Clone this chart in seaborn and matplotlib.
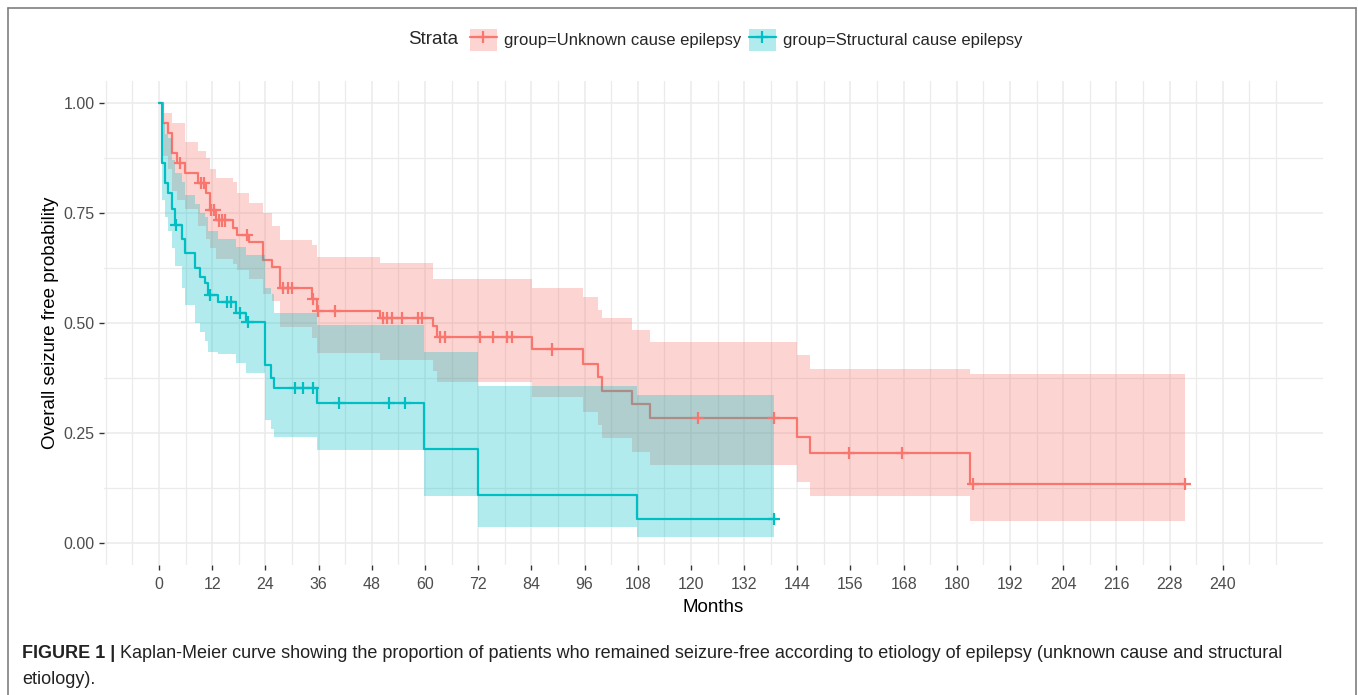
import numpy as np
import pandas as pd
import matplotlib.pyplot as plt
import seaborn as sns
from matplotlib.patches import Patch
from matplotlib.lines import Line2D
from matplotlib.legend_handler import HandlerTuple

groups = ['group=Unknown cause epilepsy', 'group=Structural cause epilepsy']
colors = ['#F8766D', '#00BFC4']

# Unknown cause epilepsy (step times in months, survival, CI)
unk_time = [0, 1, 2, 3, 4, 5.9, 8.8, 10.6, 11.4, 12.8, 16.7, 17.6, 20.3, 23.5, 25.5,
            27.4, 34.5, 35.6, 49.9, 61.8, 62.7, 84.1, 95.6, 99.0, 99.9, 106.7, 110.8,
            143.9, 146.9, 183.0]
unk_surv = [1.0, 0.955, 0.932, 0.886, 0.864, 0.841, 0.818, 0.795, 0.757, 0.733, 0.716,
            0.70, 0.684, 0.643, 0.627, 0.58, 0.555, 0.527, 0.511, 0.492, 0.468, 0.44,
            0.407, 0.377, 0.345, 0.316, 0.284, 0.241, 0.204, 0.134]
unk_upper = [1.0, 0.977, 0.977, 0.955, 0.955, 0.911, 0.89, 0.875, 0.85, 0.83, 0.82,
             0.795, 0.773, 0.75, 0.72, 0.689, 0.677, 0.65, 0.636, 0.60, 0.60, 0.58,
             0.559, 0.53, 0.511, 0.484, 0.457, 0.427, 0.395, 0.384]
unk_lower = [1.0, 0.88, 0.85, 0.80, 0.78, 0.76, 0.72, 0.69, 0.67, 0.645, 0.635, 0.62,
             0.60, 0.565, 0.55, 0.49, 0.465, 0.432, 0.416, 0.39, 0.366, 0.332, 0.297,
             0.268, 0.238, 0.207, 0.177, 0.139, 0.107, 0.05]
unk_censor = [4.7, 9.4, 10.1, 11.7, 12.5, 13.6, 14.3, 14.8, 19.8, 28.0, 29.0, 30.0,
              34.7, 35.9, 39.7, 50.5, 51.4, 52.5, 54.8, 58.4, 59.3, 63.4, 64.5, 72.4,
              75.3, 78.5, 79.6, 88.6, 121.6, 138.7, 155.6, 167.6, 183.6, 231.4]
unk_end = 231.4

# Structural cause epilepsy
str_time = [0, 0.7, 1.4, 2.0, 2.9, 3.6, 5.2, 5.9, 8.1, 9.2, 10.4, 11.0, 13.4, 17.4,
            19.6, 24.0, 25.2, 25.9, 35.6, 59.8, 72.0, 107.8]
str_surv = [1.0, 0.864, 0.818, 0.795, 0.758, 0.722, 0.69, 0.66, 0.625, 0.605, 0.59,
            0.564, 0.548, 0.523, 0.502, 0.405, 0.375, 0.352, 0.318, 0.213, 0.109, 0.055]
str_upper = [1.0, 0.955, 0.93, 0.92, 0.87, 0.84, 0.82, 0.79, 0.77, 0.75, 0.74, 0.71,
             0.69, 0.673, 0.655, 0.58, 0.565, 0.523, 0.495, 0.434, 0.357, 0.336]
str_lower = [1.0, 0.78, 0.74, 0.71, 0.67, 0.63, 0.58, 0.54, 0.50, 0.48, 0.46, 0.435,
             0.43, 0.41, 0.386, 0.28, 0.26, 0.241, 0.211, 0.107, 0.036, 0.013]
str_censor = [3.8, 11.6, 15.3, 16.2, 18.2, 20.0, 30.7, 32.5, 34.7, 40.6, 51.9, 55.5, 138.7]
str_end = 138.7

caption_bold = 'FIGURE 1 |'
caption_1 = (' Kaplan-Meier curve showing the proportion of patients who remained seizure-free '
             'according to etiology of epilepsy (unknown cause and structural')
caption_2 = 'etiology).'

sns.set_theme(style='white')
plt.rcParams['font.family'] = ['Liberation Sans', 'DejaVu Sans']

series = [
    (groups[0], unk_time, unk_surv, unk_upper, unk_lower, unk_censor, unk_end),
    (groups[1], str_time, str_surv, str_upper, str_lower, str_censor, str_end),
]

curves = []
marks = []
for name, t, s, up, lo, cens, end in series:
    curves.append(pd.DataFrame({'time': list(t) + [end], 'surv': list(s) + [s[-1]], 'group': name}))
    idx = np.searchsorted(t, cens, side='right') - 1
    marks.append(pd.DataFrame({'time': cens, 'surv': np.array(s)[idx], 'group': name}))
curves = pd.concat(curves, ignore_index=True)
marks = pd.concat(marks, ignore_index=True)
palette = dict(zip(groups, colors))

fig = plt.figure(figsize=(13.58, 6.95), dpi=100)
ax = fig.add_axes([0.0763, 0.1871, 0.8976, 0.6964])

sns.lineplot(data=curves, x='time', y='surv', hue='group', palette=palette,
             drawstyle='steps-post', estimator=None, sort=False, linewidth=1.6,
             legend=False, ax=ax, zorder=2)

for (name, t, s, up, lo, cens, end), c in zip(series, colors):
    ax.fill_between(list(t) + [end], list(lo) + [lo[-1]], list(up) + [up[-1]],
                    step='post', color=c, alpha=0.3, linewidth=0, zorder=3)

sns.scatterplot(data=marks, x='time', y='surv', hue='group', palette=palette,
                marker='+', s=80, linewidth=1.6, legend=False, ax=ax, zorder=4)

ax.set_xlim(-12.5, 262.5)
ax.set_ylim(-0.05, 1.05)
ax.set_xticks(np.arange(0, 241, 12))
ax.set_xticks([m for m in range(-12, 253, 6) if m % 12 or m < 0 or m > 240], minor=True)
ax.set_yticks([0, 0.25, 0.5, 0.75, 1.0])
ax.set_yticklabels(['0.00', '0.25', '0.50', '0.75', '1.00'])
ax.set_yticks([0.125, 0.375, 0.625, 0.875], minor=True)
ax.grid(which='major', color='#EBEBEB', linewidth=1.1)
ax.grid(which='minor', color='#EBEBEB', linewidth=0.9)
ax.set_axisbelow(True)
for sp in ax.spines.values():
    sp.set_visible(False)
ax.tick_params(which='major', length=3.5, width=1, color='#333333',
               labelcolor='#4D4D4D', labelsize=11.5, pad=5, bottom=True, left=True)
ax.tick_params(axis='y', which='major', pad=3)
ax.tick_params(which='minor', length=0)
ax.set_xlabel('Months', fontsize=13.5, color='black', labelpad=5)
ax.set_ylabel('Overall seizure free probability', fontsize=13.5, color='black', labelpad=3)

# legend with title on the left, ggplot style
handles = [(Patch(facecolor=c, alpha=0.3, edgecolor='none'),
            Line2D([], [], color=c, lw=1.6, marker='+', ms=9, mew=1.6)) for c in colors]
fig.text(458 / 1358, 1 - 40 / 695, 'Strata', ha='right', va='center', fontsize=13.5)
fig.legend(handles, groups, loc='center left', bbox_to_anchor=(470 / 1358, 1 - 40 / 695),
           ncol=2, frameon=False, fontsize=12, handlelength=1.6, handleheight=1.6,
           handletextpad=0.45, columnspacing=0.45, borderpad=0, borderaxespad=0,
           handler_map={tuple: HandlerTuple(ndivide=1, pad=0)})

# caption under the chart
t1 = fig.text(22 / 1358, 1 - 653 / 695, caption_bold, fontsize=13, fontweight='bold',
              color='#222222', va='center')
fig.canvas.draw()
ax.annotate(caption_1, xy=(1, 0), xycoords=t1, fontsize=13, color='#222222',
            va='bottom', annotation_clip=False)
fig.text(22 / 1358, 1 - 679 / 695, caption_2, fontsize=13, color='#222222', va='center')

# thin frame around the figure
frame = '#7F7F7F'
fig.add_artist(Line2D([7.5 / 1358, 7.5 / 1358], [0, 1 - 8 / 695], color=frame, lw=1.2))
fig.add_artist(Line2D([7.5 / 1358, 1355.5 / 1358], [1 - 8 / 695, 1 - 8 / 695], color=frame, lw=1.2))
fig.add_artist(Line2D([1355.5 / 1358, 1355.5 / 1358], [0, 1 - 8 / 695], color=frame, lw=1.2))

fig.savefig('out.png', dpi=100)
